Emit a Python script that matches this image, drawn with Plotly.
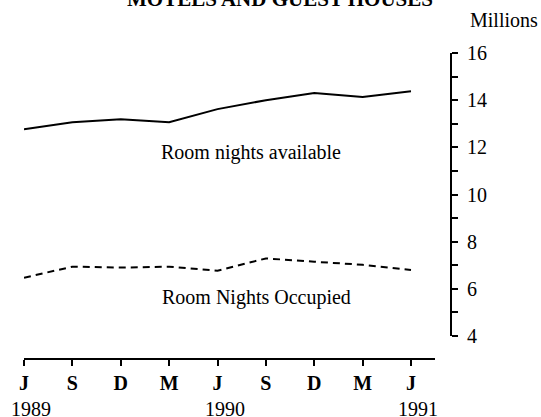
import plotly.graph_objects as go

# Data
quarter_labels = ["J", "S", "D", "M", "J", "S", "D", "M", "J"]
quarter_index = list(range(len(quarter_labels)))
year_labels = ["1989", "1990", "1991"]
year_positions = [0, 4, 8]
rooms_available = [12.77, 13.06, 13.19, 13.06, 13.62, 14.00, 14.30, 14.13, 14.38]
rooms_occupied = [6.47, 6.94, 6.90, 6.94, 6.77, 7.29, 7.15, 7.02, 6.80]

W, H = 541, 417
FONT = "Liberation Serif"

def px_x(p):
    return p / W

def px_y(p):
    return (H - p) / H

q_px = 48.375
x_left, x_right = 24, 435
y_axis_px = 450

fig = go.Figure()
# data traces on x2 (a hidden axis spanning up to the y axis, same scale as x)
fig.add_trace(go.Scatter(x=quarter_index, y=rooms_available, mode="lines",
                         xaxis="x2", yaxis="y",
                         line=dict(color="black", width=2), showlegend=False,
                         hoverinfo="skip"))
fig.add_trace(go.Scatter(x=quarter_index, y=rooms_occupied, mode="lines",
                         xaxis="x2", yaxis="y",
                         line=dict(color="black", width=2, dash="7px,5px"), showlegend=False,
                         hoverinfo="skip"))
# empty helper trace so the visible month axis is created
fig.add_trace(go.Scatter(x=[None], y=[None], xaxis="x", yaxis="y", mode="lines",
                         showlegend=False, hoverinfo="skip"))

fig.update_layout(
    width=W, height=H,
    margin=dict(l=0, r=0, t=0, b=0),
    paper_bgcolor="white", plot_bgcolor="white",
    font=dict(family=FONT, color="black", size=20),
    xaxis=dict(
        domain=[px_x(x_left), px_x(x_right)],
        range=[0, (x_right - x_left) / q_px],
        anchor="free", position=px_y(359),
        showline=True, linecolor="black", linewidth=2,
        ticks="outside", ticklen=6, tickwidth=2, tickcolor="black",
        tickvals=quarter_index, ticktext=["<b>%s</b>" % q for q in quarter_labels],
        tickfont=dict(family=FONT, size=20, color="black"),
        showgrid=False, zeroline=False, automargin=False,
    ),
    xaxis2=dict(
        domain=[px_x(x_left), px_x(y_axis_px)],
        range=[0, (y_axis_px - x_left) / q_px], visible=False,
        anchor="y", showgrid=False, zeroline=False,
    ),
    yaxis=dict(
        domain=[px_y(336), px_y(53)],
        range=[4, 16],
        anchor="x2", side="right",
        showline=True, linecolor="black", linewidth=2,
        ticks="outside", ticklen=6, tickwidth=2, tickcolor="black",
        tickvals=[4, 6, 8, 10, 12, 14, 16],
        ticklabelstandoff=5,
        minor=dict(tickvals=[5, 7, 9, 11, 13, 15], ticks="outside", ticklen=6,
                   tickwidth=2, tickcolor="black"),
        tickfont=dict(family=FONT, size=20, color="black"),
        showgrid=False, zeroline=False, automargin=False,
    ),
)

fig.add_annotation(text="<b>MOTELS AND GUEST HOUSES</b>", xref="paper", yref="paper",
                   x=px_x(280), y=px_y(-1), xanchor="center", yanchor="middle",
                   showarrow=False, font=dict(family=FONT, size=21))
fig.add_annotation(text="Millions", xref="paper", yref="paper",
                   x=px_x(504), y=px_y(20), xanchor="center", yanchor="middle",
                   showarrow=False, font=dict(family=FONT, size=20))
fig.add_annotation(text="Room nights available", xref="x2", yref="y",
                   x=4.69, y=11.8, xanchor="center", yanchor="middle",
                   showarrow=False, font=dict(family=FONT, size=20))
fig.add_annotation(text="Room Nights Occupied", xref="x2", yref="y",
                   x=4.8, y=5.65, xanchor="center", yanchor="middle",
                   showarrow=False, font=dict(family=FONT, size=20))
for yl, xp in zip(year_labels, year_positions):
    fig.add_annotation(text=yl, xref="x2", yref="paper", x=xp, y=px_y(409),
                       xshift=7, xanchor="center", yanchor="middle",
                       showarrow=False, font=dict(family=FONT, size=20))

fig.write_html(
    "out.html",
    config={"displayModeBar": False},
    post_script="document.body.style.margin='0';document.body.style.padding='0';"
                "document.documentElement.style.overflow='hidden';",
)
